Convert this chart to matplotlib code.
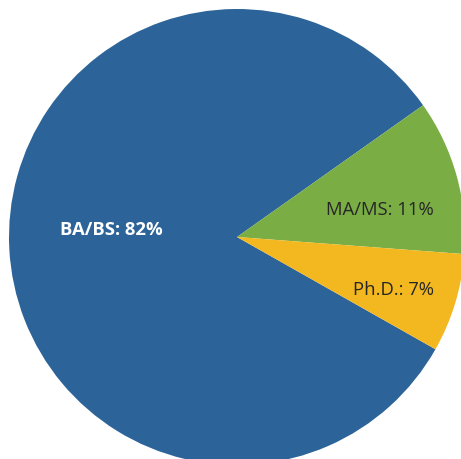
import matplotlib
matplotlib.use("Agg")
import matplotlib.pyplot as plt

# degree shares
labels = ["BA/BS", "MA/MS", "Ph.D."]
shares = [82, 11, 7]
colors = ["#2c6499", "#7aad43", "#f3b81f"]

fig = plt.figure(figsize=(4.61, 4.60), dpi=100)
ax = fig.add_axes([0, 0, 1, 1])

wedges, _ = ax.pie(shares, colors=colors, startangle=-29.5, counterclock=False,
                   radius=1.0, wedgeprops=dict(linewidth=0))

# label spots (fraction of radius, set by eye)
pos = [(-0.553, 0.035), (0.627, 0.123), (0.685, -0.228)]
tcol = ["white", "#262626", "#262626"]
weight = ["bold", "normal", "normal"]
for lab, v, (x, y), c, w in zip(labels, shares, pos, tcol, weight):
    ax.text(x, y, "%s: %d%%" % (lab, v), ha="center", va="center",
            color=c, fontsize=13.3, fontweight=w, family="Open Sans")

ax.set_xlim(-237 / 228, 224 / 228)
ax.set_ylim(-222 / 228, 238 / 228)
ax.set_aspect("auto")
ax.axis("off")

fig.savefig("out.png", dpi=100)
